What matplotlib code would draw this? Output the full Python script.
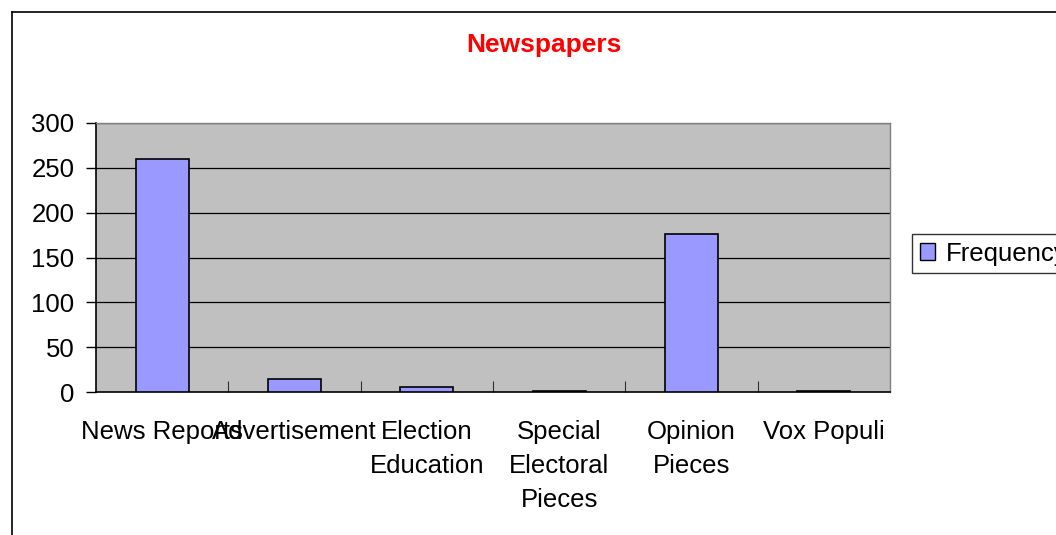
import matplotlib
matplotlib.use("Agg")
import matplotlib.pyplot as plt
from matplotlib.lines import Line2D
from matplotlib.patches import Patch

categories = ["News Reports", "Advertisement", "Election\nEducation",
              "Special\nElectoral\nPieces", "Opinion\nPieces", "Vox Populi"]
frequency = [260, 15, 6, 1, 176, 1]
yticks = [0, 50, 100, 150, 200, 250, 300]

plt.rcParams['font.family'] = ['Liberation Sans', 'DejaVu Sans']

W, H = 1056, 535
fig = plt.figure(figsize=(W / 100, H / 100), dpi=100)
fig.patch.set_facecolor('white')

ax = fig.add_axes([96 / W, 1 - 392 / H, (890 - 96) / W, (392 - 123) / H])
ax.set_facecolor('#C0C0C0')

x = list(range(len(categories)))
ax.bar(x, frequency, width=0.4, color='#9999FF', edgecolor='black', linewidth=1.2, zorder=3)
ax.set_xlim(-0.5, len(categories) - 0.5)
ax.set_ylim(0, 300)
ax.set_yticks(yticks)
ax.set_yticklabels([str(v) for v in yticks], fontsize=18.5)
for v in yticks[1:]:
    ax.axhline(v, color='black', linewidth=0.9, zorder=1)

ax.set_xticks(x)
ax.set_xticklabels(categories, fontsize=18.5, linespacing=1.52, va='top')
ax.tick_params(axis='x', length=0, pad=20)
ax.set_xticks([i + 0.5 for i in x[:-1]], minor=True)
ax.tick_params(axis='x', which='minor', direction='in', length=8, width=0.8, color='#303030')
ax.tick_params(axis='y', direction='out', length=7.5, width=1, pad=8)

for s in ['top', 'right']:
    ax.spines[s].set_color('#808080')
    ax.spines[s].set_linewidth(1)
for s in ['left', 'bottom']:
    ax.spines[s].set_color('black')
    ax.spines[s].set_linewidth(1.2)

fig.text(544 / W, 1 - 45 / H, "Newspapers", color='#FF0000', fontsize=19,
         fontweight='bold', ha='center', va='center')

# outer chart border
fig.add_artist(Line2D([12 / W, 12 / W], [0, 1 - 12 / H], color='black', linewidth=1.2,
                      transform=fig.transFigure))
fig.add_artist(Line2D([12 / W, 1], [1 - 12 / H, 1 - 12 / H], color='black', linewidth=1.2,
                      transform=fig.transFigure))

leg = fig.legend(handles=[Patch(facecolor='#9999FF', edgecolor='black', label='Frequency')],
                 loc='upper left', bbox_to_anchor=(912 / W, 1 - 234 / H), fontsize=18.5,
                 frameon=True, fancybox=False, edgecolor='black', borderpad=0.3,
                 handlelength=0.6, handleheight=0.6, handletextpad=0.4, borderaxespad=0)
leg.get_frame().set_linewidth(1)

fig.savefig("out.png", dpi=100)
